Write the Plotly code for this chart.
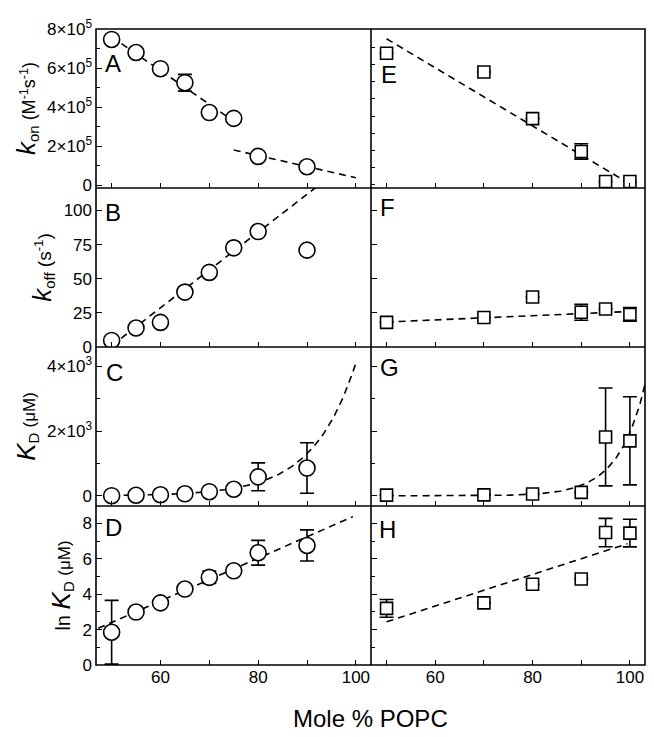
import numpy as np
import plotly.graph_objects as go

# ---------------- data ----------------
# Left column (open circles): panels A-D
x_left = [50, 55, 60, 65, 70, 75, 80, 90]
kon_left = [7.47e5, 6.80e5, 5.97e5, 5.25e5, 3.72e5, 3.42e5, 1.47e5, 0.94e5]
kon_left_err = [0, 0, 0, 0.43e5, 0, 0, 0, 0]
koff_left = [4.8, 13.9, 18.0, 40.2, 54.6, 72.6, 84.5, 70.9]
koff_left_err = [0, 0, 0, 3.5, 0, 0, 0, 0]
kd_left = [6, 20, 35, 65, 130, 205, 588, 860]
kd_left_err = [0, 0, 0, 0, 0, 0, 430, 780]
lnkd_left = [1.85, 2.99, 3.51, 4.29, 4.95, 5.32, 6.34, 6.75]
lnkd_left_err = [1.8, 0, 0, 0, 0.35, 0, 0.7, 0.88]

# Right column (open squares): panels E-H
x_right = [50, 70, 80, 90, 95, 100]
kon_right = [7.66e5, 6.57e5, 3.85e5, 1.94e5, 0.19e5, 0.19e5]
kon_right_err = [0, 0, 0, 0.45e5, 0, 0]
koff_right = [18.0, 21.6, 36.6, 25.4, 27.8, 23.9]
koff_right_err = [0, 0, 0, 5.8, 0, 5.0]
kd_right = [25, 33, 60, 110, 1820, 1700]
kd_right_err = [0, 0, 0, 0, 1510, 1360]
lnkd_right = [3.2, 3.51, 4.56, 4.86, 7.48, 7.45]
lnkd_right_err = [0.5, 0, 0, 0, 0.8, 0.78]

# Fit lines (end points) and exponential fit parameters
kon_left_fit1_x = [50, 75]
kon_left_fit1_y = [7.6e5, 3.28e5]
kon_left_fit2_x = [75, 100]
kon_left_fit2_y = [1.8e5, 0.38e5]
koff_left_fit_x = [50, 100]
koff_left_fit_y = [1.0, 139.5]
lnkd_left_fit_x = [45, 99.4]
lnkd_left_fit_y = [1.8, 8.38]
kd_left_fit_span = [50, 100]
kd_left_fit_params = [8.32, 0.115]  # ln(KD) at 100 %, slope per mole %

kon_right_fit_x = [50, 99.5]
kon_right_fit_y = [8.5e5, 0.13e5]
koff_right_fit_x = [50, 100]
koff_right_fit_y = [18.3, 26.0]
lnkd_right_fit_x = [50, 99.5]
lnkd_right_fit_y = [2.44, 6.85]
kd_right_fit_span = [50, 104]
kd_right_fit_params = [7.58, 0.18]

x_tickvals = [50, 60, 70, 80, 90, 100]
x_ticktext = ["", "60", "", "80", "", "100"]
panel_letters = ["A", "E", "B", "F", "C", "G", "D", "H"]

# ---------------- figure ----------------
FONT = "Liberation Sans, Arial, Helvetica, sans-serif"
fig = go.Figure()

def ax_id(idx):
    return "" if idx == 1 else str(idx)

def exp_curve(span, params):
    xs = np.linspace(span[0], span[1], 200)
    return xs, np.exp(params[0] + params[1] * (xs - 100))

dash_line = dict(color="black", width=1.6, dash="7px,5px")

def add_line(idx, xs, ys):
    fig.add_trace(go.Scatter(x=list(xs), y=list(ys), mode="lines", line=dash_line,
                             xaxis="x" + ax_id(idx), yaxis="y" + ax_id(idx),
                             showlegend=False, hoverinfo="skip"))

def add_points(idx, xs, ys, err, symbol, size):
    fig.add_trace(go.Scatter(
        x=xs, y=ys, mode="markers", xaxis="x" + ax_id(idx), yaxis="y" + ax_id(idx),
        showlegend=False,
        marker=dict(symbol=symbol, size=size, color="white",
                    line=dict(color="black", width=1.6)),
        error_y=dict(type="data", array=err, visible=True, color="black",
                     thickness=1.6, width=7)))

# A
add_line(1, kon_left_fit1_x, kon_left_fit1_y)
add_line(1, kon_left_fit2_x, kon_left_fit2_y)
add_points(1, x_left, kon_left, kon_left_err, "circle", 16)
# E
add_line(2, kon_right_fit_x, kon_right_fit_y)
add_points(2, x_right, kon_right, kon_right_err, "square", 12)
# B
add_line(3, koff_left_fit_x, koff_left_fit_y)
add_points(3, x_left, koff_left, koff_left_err, "circle", 16)
# F
add_line(4, koff_right_fit_x, koff_right_fit_y)
add_points(4, x_right, koff_right, koff_right_err, "square", 12)
# C
cx, cy = exp_curve(kd_left_fit_span, kd_left_fit_params)
add_line(5, cx, cy)
add_points(5, x_left, kd_left, kd_left_err, "circle", 16)
# G
gx, gy = exp_curve(kd_right_fit_span, kd_right_fit_params)
add_line(6, gx, gy)
add_points(6, x_right, kd_right, kd_right_err, "square", 12)
# D
add_line(7, lnkd_left_fit_x, lnkd_left_fit_y)
add_points(7, x_left, lnkd_left, lnkd_left_err, "circle", 16)
# H
add_line(8, lnkd_right_fit_x, lnkd_right_fit_y)
add_points(8, x_right, lnkd_right, lnkd_right_err, "square", 12)

# page body has an 8px margin, so the figure is sized/offset to compensate
W, H = 646, 729
ml, mr, mt, mb = 88, 9, 9, 72
split = 275 / (W - ml - mr)
col_dom = [[0, split], [split, 1]]
row_dom = [[0.75, 1], [0.5, 0.75], [0.25, 0.5], [0, 0.25]]

axis_common = dict(showline=False, showgrid=False, zeroline=False, ticks="inside",
                   tickcolor="black", tickwidth=1.4, ticklabeloverflow="allow",
                   tickfont=dict(family=FONT, size=17, color="black"))

y_ranges = [[-15000, 800500], [-19000, 907000], [0, 116.4], [0, 116.4],
            [-312, 4597], [-312, 4597], [0, 8.98], [0, 8.98]]
y_major = [[0, 2e5, 4e5, 6e5, 8e5], [i * 1e5 for i in range(9)],
           [0, 25, 50, 75, 100], [0, 25, 50, 75, 100],
           [0, 2000, 4000], [0, 2000, 4000], [0, 2, 4, 6, 8], [0, 2, 4, 6, 8]]
y_minor = [[1e5, 3e5, 5e5, 7e5], [], [], [], [1000, 3000], [1000, 3000],
           [1, 3, 5, 7], [1, 3, 5, 7]]
y_text = [["0", "2×10<sup>5</sup>", "4×10<sup>5</sup>", "6×10<sup>5</sup>", "8×10<sup>5</sup>"],
          None, ["0", "25", "50", "75", "100"], None,
          ["0", "2×10<sup>3</sup>", "4×10<sup>3</sup>"], None,
          ["0", "2", "4", "6", "8"], None]
K = "<span style='font-size:26px'><i>%s</i></span>"
SUB = "<sub><span style='font-size:15px'>%s</span></sub>"
UM = " <span style='font-size:17px'>(μM)</span>"
y_titles = [K % "k" + SUB % "on" + " (M<sup>-1</sup>s<sup>-1</sup>)", None,
            K % "k" + SUB % "off" + " (s<sup>-1</sup>)", None,
            K % "K" + SUB % "D" + UM, None,
            "ln " + K % "K" + SUB % "D" + UM, None]
title_sizes = [18, None, 19, None, 19, None, 20, None]

layout = dict(width=W, height=H, plot_bgcolor="white", paper_bgcolor="white",
              margin=dict(l=ml, r=mr, t=mt, b=mb), showlegend=False,
              font=dict(family=FONT, color="black"))

for i in range(8):
    idx = i + 1
    r, c = divmod(i, 2)
    xa = dict(axis_common, domain=col_dom[c], range=[46.8, 103.1], anchor="y" + ax_id(idx),
              tickmode="array", tickvals=x_tickvals, ticklen=5,
              ticktext=x_ticktext if r == 3 else [""] * len(x_tickvals),
              showticklabels=(r == 3))
    ya = dict(axis_common, domain=row_dom[r], range=y_ranges[i], anchor="x" + ax_id(idx),
              tickmode="array", tickvals=y_major[i], ticklen=6, ticklabelstandoff=3,
              showticklabels=(c == 0))
    if y_text[i] is not None:
        ya["ticktext"] = y_text[i]
    if y_minor[i]:
        ya["minor"] = dict(tickmode="array", tickvals=y_minor[i], ticks="inside",
                           ticklen=3.5, tickwidth=1.4, tickcolor="black")
    if i == 1:
        ya["ticklen"] = 4
    if y_titles[i]:
        ya["title"] = dict(text=y_titles[i], standoff=6,
                           font=dict(family=FONT, size=title_sizes[i], color="black"))
    layout["xaxis" + ax_id(idx)] = xa
    layout["yaxis" + ax_id(idx)] = ya

fig.update_layout(**layout)

# panel frames (shared borders drawn once)
frame = dict(color="black", width=1.6)
fig.add_shape(type="rect", xref="paper", yref="paper", x0=0, x1=1, y0=0, y1=1, line=frame)
fig.add_shape(type="line", xref="paper", yref="paper", x0=split, x1=split, y0=0, y1=1, line=frame)
for yb in [0.25, 0.5, 0.75]:
    fig.add_shape(type="line", xref="paper", yref="paper", x0=0, x1=1, y0=yb, y1=yb, line=frame)

letter_pos = [(0.06, 0.78), (0.067, 0.714), (0.062, 0.848), (0.06, 0.878),
              (0.069, 0.839), (0.066, 0.87), (0.065, 0.863), (0.062, 0.854)]
for i, (lx, ly) in enumerate(letter_pos):
    idx = i + 1
    fig.add_annotation(text=panel_letters[i], x=lx, y=ly,
                       xref="x" + ax_id(idx) + " domain", yref="y" + ax_id(idx) + " domain",
                       xanchor="center", yanchor="middle", showarrow=False,
                       font=dict(family=FONT, size=24, color="black"))

fig.add_annotation(text="Mole % POPC", x=0.5, y=(665 - 720) / 648, xref="paper", yref="paper",
                   xanchor="center", yanchor="middle", showarrow=False,
                   font=dict(family=FONT, size=24, color="black"))

fig.write_html("out.html")
